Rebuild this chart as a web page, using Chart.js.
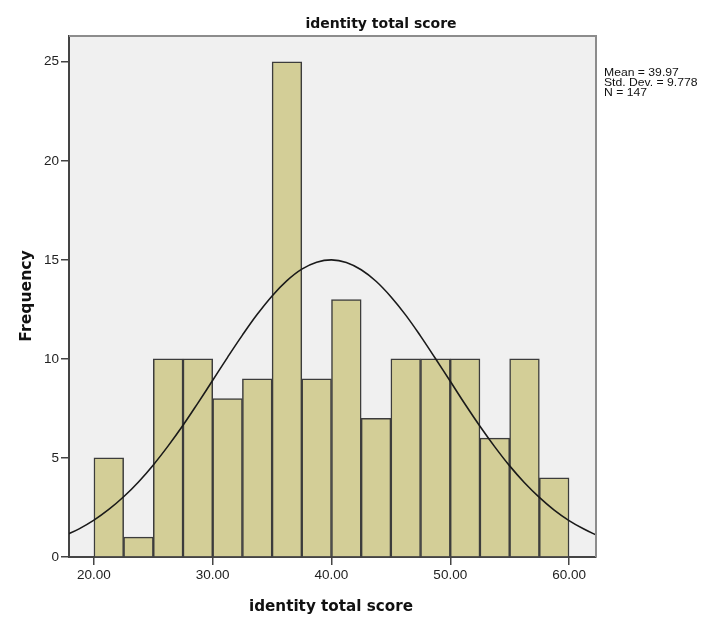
<!DOCTYPE html>
<html>
<head>
<meta charset="utf-8">
<script src="https://cdn.jsdelivr.net/npm/chart.js@4.4.1/dist/chart.umd.min.js"></script>
<style>
html,body{margin:0;padding:0;background:#fff;}
#wrap{width:727px;height:620px;}
</style>
</head>
<body>
<div id="wrap"><canvas id="c" width="727" height="620"></canvas></div>
<script>
// ---- data ----
const binStarts = [20, 22.5, 25, 27.5, 30, 32.5, 35, 37.5, 40, 42.5, 45, 47.5, 50, 52.5, 55, 57.5];
const binWidth = 2.5;
const frequencies = [5, 1, 10, 10, 8, 9, 25, 9, 13, 7, 10, 10, 10, 6, 10, 4];
const curveX = [17.5, 18.75, 20, 21.25, 22.5, 23.75, 25, 26.25, 27.5, 28.75, 30, 31.25, 32.5, 33.75, 35, 36.25, 37.5, 38.75, 40, 41.25, 42.5, 43.75, 45, 46.25, 47.5, 48.75, 50, 51.25, 52.5, 53.75, 55, 56.25, 57.5, 58.75, 60, 61.25, 62.5];
const curveY = [1.07, 1.42, 1.86, 2.40, 3.04, 3.79, 4.65, 5.61, 6.65, 7.77, 8.92, 10.08, 11.20, 12.25, 13.18, 13.95, 14.53, 14.88, 15.0, 14.87, 14.50, 13.92, 13.14, 12.21, 11.15, 10.02, 8.87, 7.71, 6.60, 5.56, 4.60, 3.75, 3.01, 2.37, 1.84, 1.41, 1.05];
const xTicks = [20, 30, 40, 50, 60];
const yTicks = [0, 5, 10, 15, 20, 25];
const titleText = 'identity total score';
const xTitle = 'identity total score';
const yTitle = 'Frequency';
const statsLines = ['Mean = 39.97', 'Std. Dev. = 9.778', 'N = 147'];

const barData = binStarts.map((s, i) => ({x: s + binWidth / 2, y: frequencies[i]}));
const lineData = curveX.map((x, i) => ({x: x, y: curveY[i]}));

const decor = {
  id: 'decor',
  beforeDraw(chart) {
    const a = chart.chartArea, ctx = chart.ctx;
    ctx.save();
    ctx.fillStyle = '#f0f0f0';
    ctx.fillRect(a.left, a.top, a.right - a.left, a.bottom - a.top);
    ctx.restore();
  },
  afterDraw(chart) {
    const a = chart.chartArea, ctx = chart.ctx;
    ctx.save();
    // top & right frame
    ctx.strokeStyle = '#8c8c8c';
    ctx.lineWidth = 2;
    ctx.beginPath();
    ctx.moveTo(a.left, a.top);
    ctx.lineTo(a.right, a.top);
    ctx.lineTo(a.right, a.bottom);
    ctx.stroke();
    // texts
    ctx.fillStyle = '#111';
    ctx.textAlign = 'center';
    ctx.textBaseline = 'alphabetic';
    ctx.font = 'bold 14px "DejaVu Sans"';
    ctx.fillText(titleText, 381, 28);
    ctx.font = 'bold 15.2px "DejaVu Sans"';
    ctx.fillText(xTitle, 331, 611);
    ctx.save();
    ctx.translate(31, 296);
    ctx.rotate(-Math.PI / 2);
    ctx.font = 'bold 15.6px "DejaVu Sans"';
    ctx.fillText(yTitle, 0, 0);
    ctx.restore();
    ctx.textAlign = 'left';
    ctx.font = '10.5px "Liberation Sans"';
    ctx.fillStyle = '#111';
    statsLines.forEach((t, i) => {
      ctx.save();
      ctx.translate(604, 76 + i * 9.9);
      ctx.scale(1.16, 1);
      ctx.fillText(t, 0, 0);
      ctx.restore();
    });
    ctx.restore();
  }
};

new Chart(document.getElementById('c'), {
  type: 'bar',
  data: {
    datasets: [
      {
        type: 'line',
        data: lineData,
        borderColor: '#1a1a1a',
        borderWidth: 1.6,
        pointRadius: 0,
        fill: false,
        tension: 0.4,
        order: 0
      },
      {
        type: 'bar',
        data: barData,
        backgroundColor: '#d3ce97',
        borderColor: '#3c3c3c',
        borderWidth: 1.5,
        barPercentage: 1,
        categoryPercentage: 1,
        order: 1
      }
    ]
  },
  options: {
    responsive: false,
    animation: false,
    devicePixelRatio: 1,
    layout: {padding: {left: 0, right: 131, top: 36, bottom: 0}},
    plugins: {legend: {display: false}, tooltip: {enabled: false}, title: {display: false}},
    scales: {
      x: {
        type: 'linear',
        offset: false,
        min: 17.9,
        max: 62.27,
        afterBuildTicks(scale) { scale.ticks = xTicks.map(v => ({value: v})); },
        afterFit(scale) { scale.height = 63; },
        grid: {display: true, offset: false, drawOnChartArea: false, drawTicks: true, tickLength: 8, tickColor: '#444', lineWidth: 1.5},
        border: {display: true, color: '#444', width: 2},
        ticks: {
          color: '#222',
          padding: 2,
          font: {family: '"Liberation Sans", Arial', size: 13.5},
          maxRotation: 0,
          callback: v => Number(v).toFixed(2)
        }
      },
      y: {
        type: 'linear',
        min: 0,
        max: 26.3,
        afterBuildTicks(scale) { scale.ticks = yTicks.map(v => ({value: v})); },
        afterFit(scale) { scale.width = 69; },
        grid: {display: true, offset: false, drawOnChartArea: false, drawTicks: true, tickLength: 8, tickColor: '#444', lineWidth: 1.5},
        border: {display: true, color: '#444', width: 2},
        ticks: {
          color: '#222',
          padding: 2,
          font: {family: '"Liberation Sans", Arial', size: 13.5}
        }
      }
    }
  },
  plugins: [decor]
});
</script>
</body>
</html>
